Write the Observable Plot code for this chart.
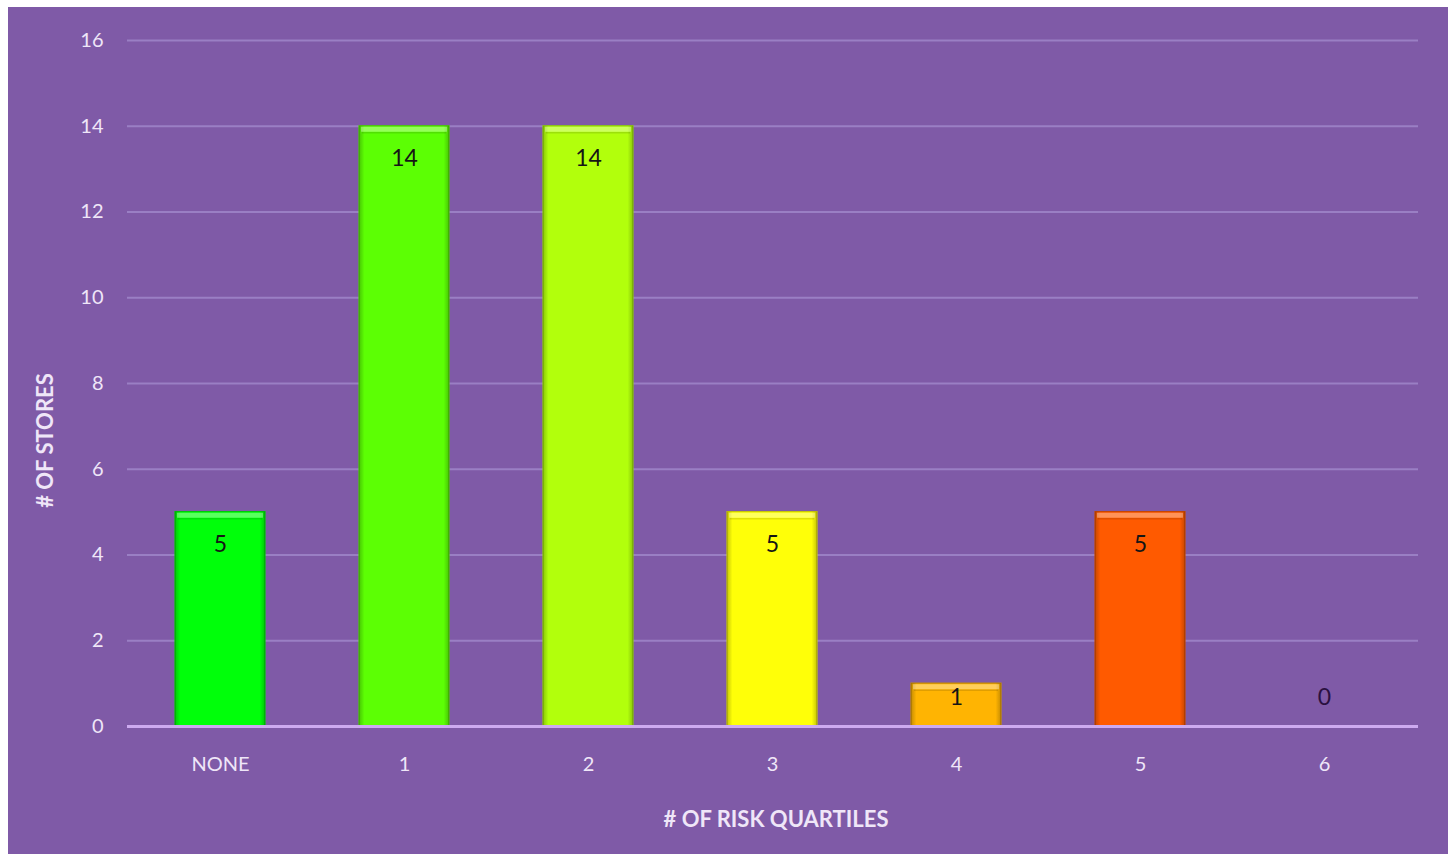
<!DOCTYPE html>
<html>
<head>
<meta charset="utf-8">
<script src="https://cdn.jsdelivr.net/npm/d3@7"></script>
<script src="https://cdn.jsdelivr.net/npm/@observablehq/plot@0.6"></script>
<style>
  html, body { margin: 0; padding: 0; background: #ffffff; }
  #frame { position: absolute; left: 8px; top: 7px; width: 1440px; height: 847px; background: #7f5aa7; }
  svg { font-family: Lato, "Open Sans", sans-serif; }
</style>
</head>
<body>
<div id="frame"></div>
<script>
const categories = ["NONE", "1", "2", "3", "4", "5", "6"];
const stores = [5, 14, 14, 5, 1, 5, 0];
const barColors = ["#00ff0a", "#5cff04", "#b2ff0c", "#ffff08", "#ffb402", "#ff5a00", "#7f5aa7"];
const yTicks = [0, 2, 4, 6, 8, 10, 12, 14, 16];

const data = categories.map((c, i) => ({
  cat: c,
  value: stores[i],
  color: barColors[i],
  edge: d3.color(barColors[i]).darker(0.7).formatHex()
}));
const shown = data.filter(d => d.value > 0);

const chart = Plot.plot({
  width: 1440,
  height: 847,
  marginLeft: 119,
  marginRight: 30,
  marginTop: 33,
  marginBottom: 128,
  style: { background: "transparent", color: "#efe6f8", fontSize: "20px", fontFamily: "Lato, 'Open Sans', sans-serif" },
  x: { domain: categories, paddingInner: 0.51, paddingOuter: 0.255, label: null },
  y: { domain: [0, 16], ticks: yTicks, label: null },
  color: { type: "identity" },
  marks: [
    Plot.gridY(yTicks.filter(t => t > 0), { stroke: "#9a7fc4", strokeOpacity: 1, strokeWidth: 2 }),
    Plot.barY(shown, { x: "cat", y: "value", fill: "color", stroke: "edge", strokeWidth: 1.2 }),
    Plot.barY(shown, { x: "cat", y: "value", fill: "#000", className: "side-shade" }),
    Plot.tickY(shown, { x: "cat", y: "value", stroke: "#ffffff", strokeOpacity: 0.35, strokeWidth: 5, dy: 3, inset: 2 }),
    Plot.tickY(shown, { x: "cat", y: "value", stroke: "#000000", strokeOpacity: 0.12, strokeWidth: 1.5, dy: 6.5, inset: 3 }),
    Plot.ruleY([0], { stroke: "#cdaaf0", strokeWidth: 3 }),
    Plot.axisY({ ticks: yTicks, tickSize: 0, tickPadding: 24, fill: "#efe6f8", fontSize: 20 }),
    Plot.axisX({ tickSize: 0, tickPadding: 30, fill: "#efe6f8", fontSize: 20 }),
    Plot.text(data, {
      x: "cat",
      y: d => Math.max(d.value - 0.75, 0.68),
      text: d => String(d.value),
      fill: d => d.value > 0 ? "#151515" : "#2a1040",
      fontSize: 23
    }),
    Plot.text(["# OF STORES"], { frameAnchor: "left", textAnchor: "middle", dx: -82, dy: 57, rotate: -90, fill: "#efe6f8", fontSize: 22, fontWeight: "bold" }),
    Plot.text(["# OF RISK QUARTILES"], { frameAnchor: "bottom", dx: 3, dy: 100, fill: "#efe6f8", fontSize: 22, fontWeight: "bold" })
  ]
});

// side shading gradient for a bevelled look
const svg = d3.select(chart);
const defs = svg.insert("defs", ":first-child");
const g = defs.append("linearGradient").attr("id", "sideShade").attr("x1", 0).attr("x2", 1).attr("y1", 0).attr("y2", 0);
g.append("stop").attr("offset", "0%").attr("stop-color", "#000").attr("stop-opacity", 0.22);
g.append("stop").attr("offset", "6%").attr("stop-color", "#000").attr("stop-opacity", 0);
g.append("stop").attr("offset", "94%").attr("stop-color", "#000").attr("stop-opacity", 0);
g.append("stop").attr("offset", "100%").attr("stop-color", "#000").attr("stop-opacity", 0.22);
svg.selectAll(".side-shade rect").attr("fill", "url(#sideShade)");
svg.selectAll(".side-shade").attr("fill", "url(#sideShade)");

document.getElementById("frame").appendChild(chart);
</script>
</body>
</html>
